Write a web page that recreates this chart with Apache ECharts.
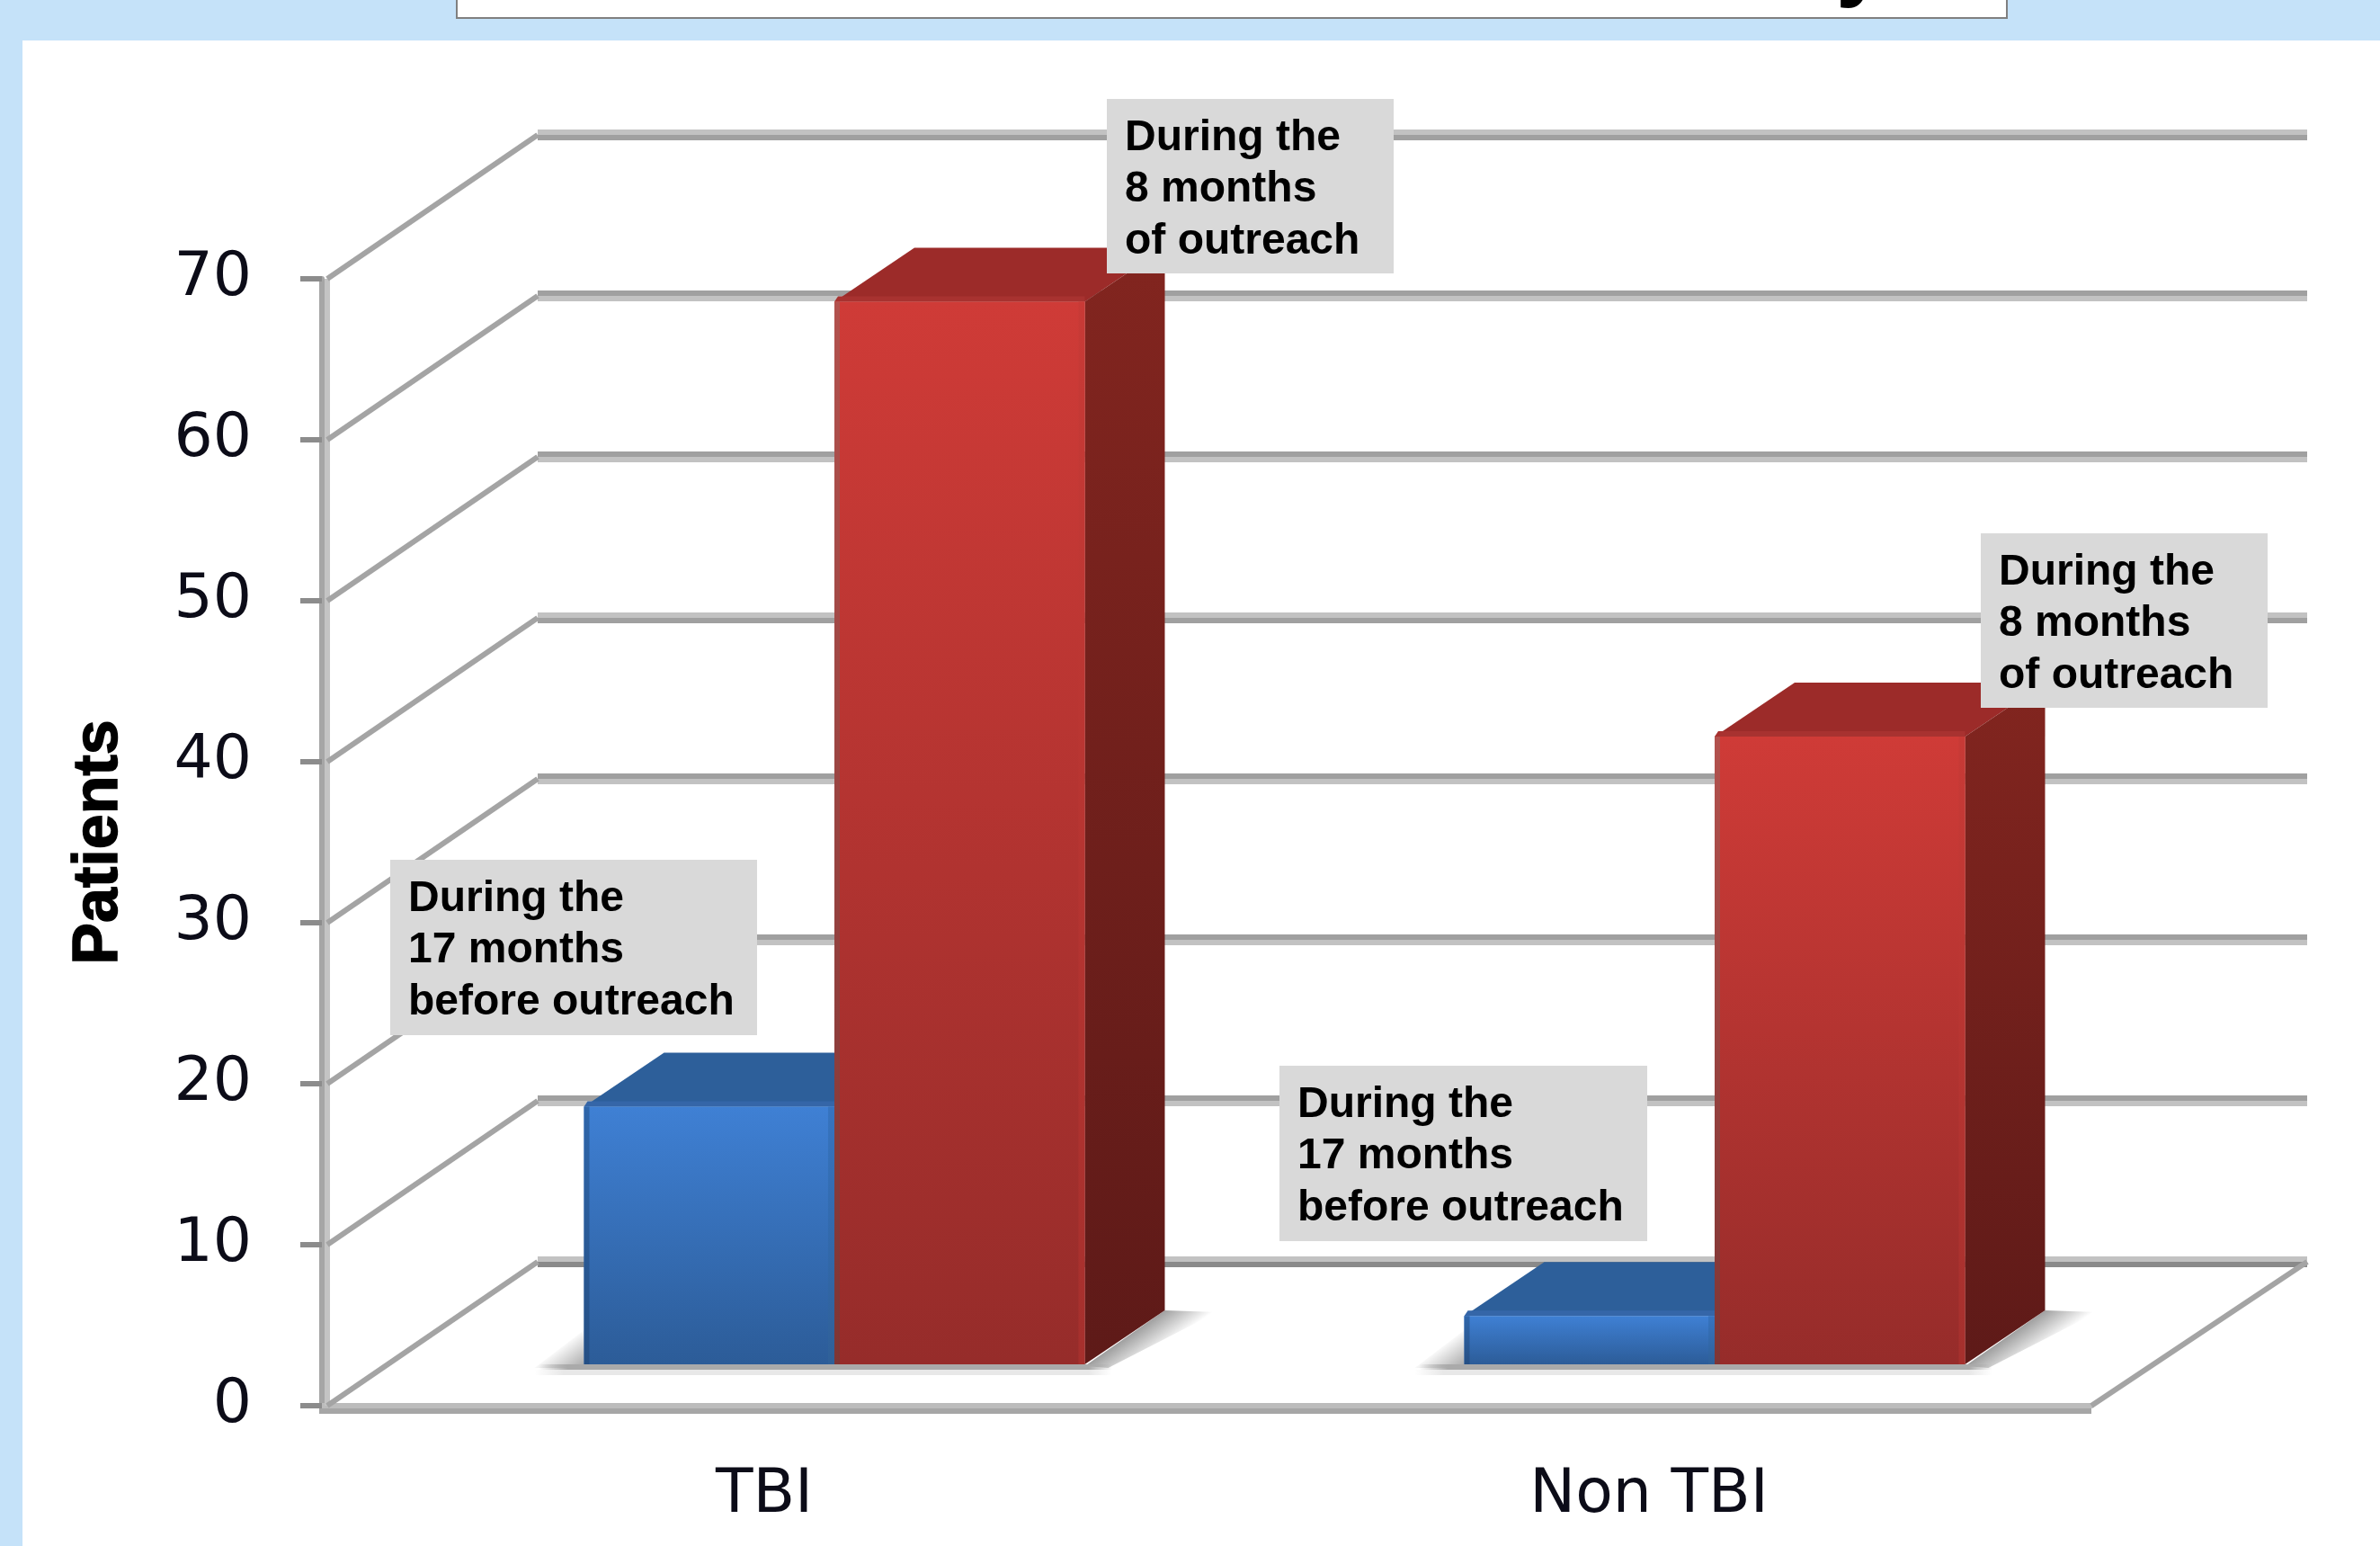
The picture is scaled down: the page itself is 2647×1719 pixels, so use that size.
<!DOCTYPE html>
<html><head><meta charset="utf-8">
<style>html,body{margin:0;padding:0;background:#c5e2f9}#c{width:2647px;height:1719px}</style>
<script src="https://cdn.jsdelivr.net/npm/echarts@6/dist/echarts.min.js"></script>
</head><body><div id="c"></div>
<script>
const categories = ['TBI', 'Non TBI'];
const yTicks = [0, 10, 20, 30, 40, 50, 60, 70];
const beforeOutreach = [16, 3];
const duringOutreach = [66, 39];
const noteBefore = 'During the\n17 months\nbefore outreach';
const noteDuring = 'During the\n8 months\nof outreach';

const G = echarts.graphic;
const DX = 240, DY = -160;          // wall depth
const OFFS = [78, 73], BASE = -46;  // bar offset into the floor
const BDX = 89, BDY = -60;          // bar depth
const BW = 0.283;                   // bar width, share of band
const lightTop = {0: 1, 70: 1, 40: 1};

function vgrad(a, b) { return new G.LinearGradient(0, 0, 0, 1, [{offset: 0, color: a}, {offset: 1, color: b}]); }
function fade(x1, y1, x2, y2, c) {
  return new G.LinearGradient(x1, y1, x2, y2, [{offset: 0, color: 'rgba(150,150,150,0)'}, {offset: 1, color: c}], true);
}
function rect(x, y, w, h, fill) { return {type: 'rect', shape: {x, y, width: w, height: h}, style: {fill}}; }
function poly(points, fill) { return {type: 'polygon', shape: {points}, style: {fill}}; }

function wall(params, api) {
  const v = api.value(0);
  const p = api.coord([0, v]);
  const q = api.coord([1, v]);
  const halfBand = api.size([1, 0])[0] / 2;
  const x0 = p[0] - halfBand, x1 = q[0] + halfBand, y = p[1];
  const kids = [];
  const light = '#c2c2c2', dark = v === 0 ? '#8a8a8a' : '#a0a0a0';
  const bx0 = x0 + DX, bx1 = x1 + DX, by = y + DY;
  const top = lightTop[v] ? light : dark, bot = lightTop[v] ? dark : light;
  kids.push(rect(bx0, by - 6, bx1 - bx0, 6, top));
  kids.push(rect(bx0, by, bx1 - bx0, 6, bot));
  kids.push({type: 'line', shape: {x1: x0 + 6, y1: y, x2: bx0, y2: by}, style: {stroke: '#a4a4a4', lineWidth: 6}});
  if (v === 0) {
    kids.push({type: 'line', shape: {x1: x1, y1: y, x2: bx1, y2: by}, style: {stroke: '#a4a4a4', lineWidth: 6}});
    kids.push(rect(x0 - 3, y + 3, x1 - x0 + 3, 6, '#a6a6a6'));
  }
  return {type: 'group', children: kids};
}

function floorShadow(params, api) {
  const i = api.value(0);
  const c = api.coord([i, 0]);
  const w = api.size([1, 0])[0] * BW;
  const L = c[0] + OFFS[i] - w, R = c[0] + OFFS[i] + w, y = c[1] + BASE;
  const tail = new G.LinearGradient(L - 55, 0, R + 30, 0, [
    {offset: 0, color: 'rgba(232,232,232,0)'}, {offset: 0.05, color: '#e8e8e8'},
    {offset: 0.96, color: '#e8e8e8'}, {offset: 1, color: 'rgba(232,232,232,0)'}], true);
  const strip = new G.LinearGradient(L - 50, 0, R + 30, 0, [
    {offset: 0, color: 'rgba(170,170,170,0)'}, {offset: 0.05, color: '#aaaaaa'},
    {offset: 0.96, color: '#aaaaaa'}, {offset: 1, color: 'rgba(170,170,170,0)'}], true);
  return {type: 'group', children: [
    poly([[L, y - 38], [L - 55, y + 4], [L, y + 4]], fade(L - 30, y - 18, L - 6, y + 14, '#9c9c9c')),
    poly([[R, y + 2], [R + BDX, y + BDY], [R + BDX + 58, y + BDY + 2], [R + 26, y + 4]], fade(R + 22, y + 28, R + 2, y, '#9c9c9c')),
    rect(L - 50, y, R - L + 80, 6, strip),
    rect(L - 55, y + 6, R - L + 85, 6, tail)
  ]};
}

function bar(palette, side) {
  return function (params, api) {
    const i = api.value(0), v = api.value(1);
    const c = api.coord([i, v]), c0 = api.coord([i, 0]);
    const w = api.size([1, 0])[0] * BW;
    const x = c[0] + OFFS[i] + (side < 0 ? -w : 0);
    const y = c[1] + BASE, yb = c0[1] + BASE, h = yb - y;
    const kids = [
      poly([[x, y], [x + BDX, y + BDY], [x + w + BDX, y + BDY], [x + w, y]], palette.top),
      poly([[x + 4, y - 6], [x + w, y - 6], [x + w, y], [x, y]], palette.topStrip),
      poly([[x + w, y], [x + w + BDX, y + BDY], [x + w + BDX, yb + BDY], [x + w, yb]], vgrad(palette.sideA, palette.sideB)),
      rect(x, y, w, h, vgrad(palette.faceA, palette.faceB)),
      rect(x, y, 6, h, vgrad(palette.edgeLA, palette.edgeLB)),
      rect(x + w - 7, y, 7, h, vgrad(palette.edgeRA, palette.edgeRB))
    ];
    return {type: 'group', children: kids};
  };
}
const bluePal = {top: '#2d5f9a', topStrip: '#3566a8', sideA: '#2a5a92', sideB: '#234c7c',
  faceA: '#3f80d4', faceB: '#2c5c98', edgeLA: '#2f66aa', edgeLB: '#254f84', edgeRA: '#3674c0', edgeRB: '#2f6098'};
const redPal = {top: '#9c2b29', topStrip: '#a83230', sideA: '#82251f', sideB: '#5e1a18',
  faceA: '#cf3b37', faceB: '#962c2a', edgeLA: '#b2524e', edgeLB: '#7f3534', edgeRA: '#c83a36', edgeRB: '#a5302d'};

function note(x, y, w, h, text) {
  return {type: 'group', z: 100, children: [
    {type: 'rect', z: 100, shape: {x, y, width: w, height: h}, style: {fill: '#d9d9d9'}},
    {type: 'text', z: 101, x: x + 20, y: y + 15, style: {text, fill: '#000', font: 'bold 48px "Liberation Sans"', lineHeight: 57.5, textVerticalAlign: 'top'}}
  ]};
}

const chart = echarts.init(document.getElementById('c'), null, {renderer: 'canvas'});
chart.setOption({
  animation: false,
  backgroundColor: '#c5e2f9',
  grid: {left: 358, top: 310, width: 1968, height: 1253},
  xAxis: {type: 'category', data: categories, boundaryGap: true,
    axisLine: {show: true, lineStyle: {color: '#bcbcbc', width: 6}}, axisTick: {show: false},
    axisLabel: {fontFamily: 'DejaVu Sans', fontSize: 68, color: '#0c0c18', margin: 66}, splitLine: {show: false}},
  yAxis: {type: 'value', min: 0, max: 70, interval: 10, name: 'Patients', nameLocation: 'middle', nameRotate: 90, nameGap: 212,
    nameTextStyle: {fontFamily: 'Liberation Sans', fontWeight: 'bold', fontSize: 70, color: '#000', textBorderColor: '#000', textBorderWidth: 1.5},
    axisLine: {show: true, lineStyle: {color: '#a6a6a6', width: 6}},
    axisTick: {show: true, length: 24, lineStyle: {color: '#8c8c8c', width: 6}},
    axisLabel: {fontFamily: 'DejaVu Sans', fontSize: 68, color: '#0c0c18', margin: 78, padding: [8, 0, 0, 0]}, splitLine: {show: false}},
  graphic: [
    {type: 'rect', z: -100, shape: {x: 25, y: 45, width: 2622, height: 1674}, style: {fill: '#fff'}},
    {type: 'rect', z: -90, shape: {x: 508, y: -4, width: 1724, height: 24}, style: {fill: '#fff', stroke: '#808080', lineWidth: 2}},
    {type: 'text', z: -80, x: 2042, y: -90, style: {text: 'y', fill: '#000', font: 'bold 100px "Liberation Sans"', textVerticalAlign: 'top'}},
    {type: 'rect', z: 1, shape: {x: 361, y: 310, width: 6, height: 1253}, style: {fill: '#c4c4c4'}},
    note(1231, 110, 319, 194, noteDuring),
    note(2203, 593, 319, 194, noteDuring),
    note(434, 956, 408, 195, noteBefore),
    note(1423, 1185, 409, 195, noteBefore)
  ],
  series: [
    {type: 'custom', z: 1, silent: true, renderItem: wall, data: yTicks.map(v => [v]), encode: {y: 0}, clip: false},
    {type: 'custom', z: 2, silent: true, renderItem: floorShadow, data: categories.map((c, i) => [i]), encode: {x: 0}, clip: false},
    {type: 'custom', z: 3, silent: true, name: 'During the 17 months before outreach', renderItem: bar(bluePal, -1),
      data: beforeOutreach.map((v, i) => [i, v]), encode: {x: 0, y: 1}, clip: false},
    {type: 'custom', z: 4, silent: true, name: 'During the 8 months of outreach', renderItem: bar(redPal, 1),
      data: duringOutreach.map((v, i) => [i, v]), encode: {x: 0, y: 1}, clip: false}
  ]
});
</script></body></html>
